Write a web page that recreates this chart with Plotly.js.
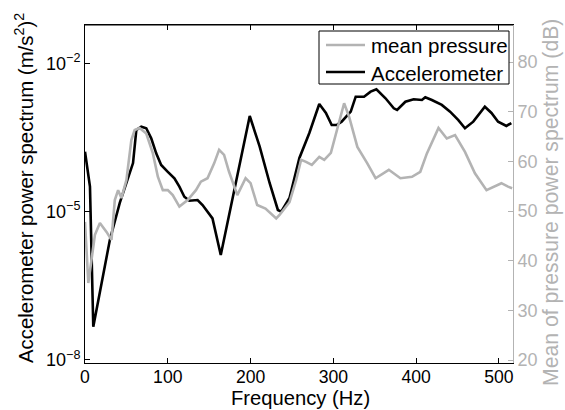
<!DOCTYPE html>
<html>
<head>
<meta charset="utf-8">
<script src="https://cdn.plot.ly/plotly-3.0.1.min.js"></script>
<style>html,body{margin:0;padding:0;background:#fff;}#chart{width:565px;height:410px;}</style>
</head>
<body>
<div id="chart"></div>
<script>
// Accelerometer power spectrum, (m/s^2)^2
const accFreq = [0, 6, 10, 30, 42, 54, 58, 62, 68, 74, 80, 86, 92, 100, 108, 114, 120, 126, 136, 142, 148, 154, 164, 199, 211, 223, 233, 237, 247, 259, 271, 283, 291, 298, 304, 310, 321, 327, 337, 345, 352, 363, 373, 377, 387, 397, 407, 411, 419, 431, 441, 451, 459, 469, 483, 491, 499, 509, 515];
const accPower = [1.63e-4, 3.2e-5, 4.7e-8, 2.67e-6, 1.5e-5, 6.0e-5, 9.6e-5, 4.48e-4, 5.2e-4, 4.85e-4, 3.04e-4, 1.51e-4, 8.8e-5, 6.4e-5, 4.7e-5, 3.2e-5, 2.0e-5, 1.66e-5, 1.72e-5, 1.36e-5, 1.0e-5, 7.3e-6, 1.33e-6, 8.6e-4, 2.06e-4, 3.8e-5, 1.08e-5, 1.0e-5, 1.89e-5, 1.22e-4, 3.89e-4, 1.5e-3, 9.9e-4, 5.65e-4, 5.65e-4, 6.6e-4, 1.05e-3, 2.11e-3, 2.11e-3, 2.67e-3, 2.98e-3, 1.96e-3, 1.23e-3, 1.14e-3, 1.67e-3, 1.87e-3, 1.81e-3, 2.05e-3, 1.81e-3, 1.44e-3, 1.05e-3, 7.1e-4, 4.85e-4, 6.6e-4, 1.32e-3, 9.9e-4, 6.6e-4, 5.4e-4, 6.2e-4];

// Mean of pressure power spectrum, dB
const presFreq = [0, 4, 12, 18, 26, 32, 36, 40, 44, 50, 56, 60, 66, 74, 82, 88, 94, 100, 106, 114, 124, 134, 140, 148, 156, 162, 168, 174, 184, 194, 200, 208, 218, 231, 235, 247, 255, 261, 267, 274, 283, 289, 297, 305, 313, 319, 329, 341, 351, 367, 381, 395, 405, 413, 427, 437, 447, 459, 471, 485, 495, 503, 511, 516];
const presDb = [47.8, 35.5, 45.2, 47.6, 45.8, 44.2, 52.2, 54.2, 52.6, 56.2, 64.3, 66.3, 66.7, 65.6, 61.6, 56.9, 54.2, 54.2, 53.2, 50.9, 52.2, 54.2, 55.9, 56.6, 59.6, 62.3, 61.3, 57.9, 53.2, 56.6, 55.6, 51.2, 50.5, 48.5, 49.2, 51.8, 56.2, 60.3, 59.9, 59.3, 60.9, 60.3, 61.7, 67.0, 71.7, 69.0, 62.9, 59.6, 56.6, 58.3, 56.6, 56.9, 57.9, 61.6, 66.7, 64.6, 65.3, 61.9, 57.6, 54.2, 54.9, 55.6, 54.9, 54.6];

const seriesNames = ['mean pressure', 'Accelerometer'];
const xTicks = [0, 100, 200, 300, 400, 500];
const yTicks = [1e-8, 1e-5, 1e-2];
const yTickText = ['10<sup>−8</sup>', '10<sup>−5</sup>', '10<sup>−2</sup>'];
const y2Ticks = [20, 30, 40, 50, 60, 70, 80];

const FONT = 'Liberation Sans, Arial, Helvetica, sans-serif';
const GRAY = '#b3b3b3';
const COLORS = [GRAY, '#000000'];

// plot area in pixels (for converting legend/title positions into paper coords)
const W = 565, H = 410, ML = 85, MR = 52, MT = 25, MB = 47;
const PW = W - ML - MR, PH = H - MT - MB;
const px = v => (v - ML) / PW;
const py = v => 1 - (v - MT) / PH;

const traces = [
  {x: presFreq, y: presDb, name: seriesNames[0], yaxis: 'y2', type: 'scatter', mode: 'lines',
   line: {color: COLORS[0], width: 2.6}},
  {x: accFreq, y: accPower, name: seriesNames[1], yaxis: 'y', type: 'scatter', mode: 'lines',
   line: {color: COLORS[1], width: 2.6}}
];

const shapes = [
  // top border
  {type: 'line', xref: 'paper', yref: 'paper', x0: 0, x1: 1, y0: 1, y1: 1, line: {color: '#000', width: 1}},
  // legend box
  {type: 'rect', xref: 'paper', yref: 'paper', x0: px(319), x1: px(509), y0: py(84), y1: py(31),
   fillcolor: '#fff', line: {color: '#000', width: 1}, layer: 'above'}
];
const annotations = [];
const legendRows = [45, 72];
seriesNames.forEach((nm, i) => {
  shapes.push({type: 'line', xref: 'paper', yref: 'paper', x0: px(326), x1: px(365),
               y0: py(legendRows[i]), y1: py(legendRows[i]), line: {color: COLORS[i], width: 2.6}});
  annotations.push({text: nm, xref: 'paper', yref: 'paper', x: px(369), y: py(legendRows[i] + 1),
                    xanchor: 'left', yanchor: 'middle', showarrow: false,
                    font: {family: FONT, size: 20.5, color: '#000'}});
});
annotations.push({text: 'Accelerometer power spectrum (m/s<sup>2</sup>)<sup>2</sup>', textangle: -90,
                  xref: 'paper', yref: 'paper', x: px(24), y: py(188), xanchor: 'center', yanchor: 'middle',
                  showarrow: false, font: {family: FONT, size: 20.4, color: '#000'}});
annotations.push({text: 'Mean of pressure power spectrum (dB)', textangle: -90,
                  xref: 'paper', yref: 'paper', x: px(551), y: py(203), xanchor: 'center', yanchor: 'middle',
                  showarrow: false, font: {family: FONT, size: 21.2, color: GRAY}});
annotations.push({text: 'Frequency (Hz)', xref: 'paper', yref: 'paper', x: px(300), y: py(410),
                  xanchor: 'center', yanchor: 'bottom', showarrow: false, borderpad: 0,
                  font: {family: FONT, size: 20.2, color: '#000'}});

const layout = {
  width: W, height: H,
  margin: {l: ML, r: MR, t: MT, b: MB},
  paper_bgcolor: '#fff', plot_bgcolor: '#fff',
  font: {family: FONT, size: 18, color: '#000'},
  showlegend: false,
  xaxis: {range: [0, 517], tickvals: xTicks, ticks: 'inside', ticklen: 5, tickcolor: '#000',
          showline: true, linecolor: '#000', linewidth: 1, mirror: 'ticks', showgrid: false, zeroline: false,
          tickfont: {size: 17.6}, ticklabelstandoff: -2},
  yaxis: {type: 'log', range: [-8.061, -1.2255], tickvals: yTicks, ticktext: yTickText,
          ticks: 'inside', ticklen: 5, tickcolor: '#000', showline: true, linecolor: '#000', linewidth: 1,
          showgrid: false, zeroline: false, tickfont: {size: 18}},
  yaxis2: {overlaying: 'y', side: 'right', range: [19.4, 87.45], tickvals: y2Ticks,
           ticks: 'inside', ticklen: 5, tickcolor: GRAY, showline: true, linecolor: GRAY, linewidth: 1,
           showgrid: false, zeroline: false, tickfont: {size: 18, color: GRAY}},
  shapes: shapes,
  annotations: annotations
};

Plotly.newPlot('chart', traces, layout, {displayModeBar: false, staticPlot: true});
</script>
</body>
</html>
